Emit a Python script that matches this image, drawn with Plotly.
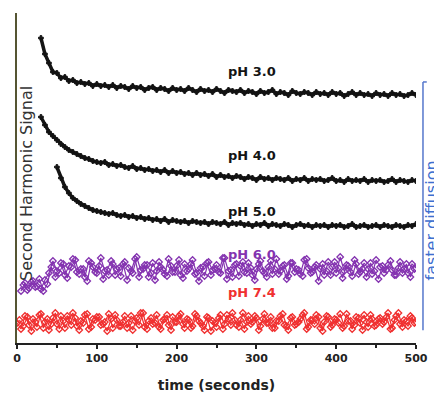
import plotly.graph_objects as go

# ---- data (arbitrary signal units, time in seconds) ----
t_ph30 = list(range(30, 505, 5))
ph30 = [305, 289, 280, 271, 270, 265, 266, 262, 263, 260, 261, 259, 260, 257, 259,
        257, 258, 256, 258, 255, 257, 256, 254, 257, 255, 256, 253, 255, 256, 253,
        255, 254, 252, 255, 253, 254, 252, 255, 253, 251, 254, 252, 253, 251, 254,
        252, 250, 253, 252, 251, 253, 250, 252, 251, 249, 252, 250, 251, 253, 249,
        251, 250, 248, 252, 250, 249, 251, 250, 248, 251, 249, 250, 248, 251, 249,
        250, 247, 249, 251, 248, 250, 248, 249, 247, 250, 248, 249, 247, 250, 248,
        249, 247, 248, 250, 248]

t_ph40 = list(range(30, 505, 5))
ph40 = [226, 218, 211, 207, 203, 199, 196, 193, 191, 189, 187, 185, 184, 182, 181,
        180, 181, 178, 179, 177, 178, 176, 175, 177, 174, 175, 173, 174, 172, 173,
        171, 173, 170, 172, 170, 171, 169, 170, 168, 170, 168, 169, 167, 169, 166,
        168, 166, 167, 165, 167, 166, 164, 166, 165, 163, 166, 164, 165, 163, 165,
        164, 163, 165, 162, 164, 163, 165, 162, 164, 163, 164, 162, 163, 165, 162,
        163, 161, 164, 162, 163, 162, 164, 161, 163, 162, 163, 161, 162, 164, 161,
        163, 162, 161, 163, 162]

t_ph50 = list(range(50, 505, 5))
ph50 = [176, 165, 156, 150, 145, 142, 139, 137, 135, 133, 132,
        131, 130, 129, 130, 128, 127, 128, 126, 127, 125, 126, 124, 125, 123, 124,
        122, 124, 121, 123, 122, 121, 122, 120, 122, 121, 120, 121, 119, 121, 120,
        119, 121, 118, 120, 119, 120, 118, 119, 117, 119, 118, 120, 117, 119, 118,
        117, 119, 118, 116, 118, 119, 117, 118, 116, 118, 117, 118, 116, 118, 117,
        118, 116, 117, 119, 116, 117, 118, 116, 117, 118, 116, 118, 117, 116, 118,
        117, 116, 118, 117, 119]

t_ph60 = list(range(5, 505, 5))
ph60 = [52, 60, 55, 62, 57, 54, 63, 70, 82, 72,
        80, 68, 77, 84, 71, 74, 66, 82, 76, 70, 85, 72, 68, 79, 74,
        67, 81, 75, 70, 86, 73, 78, 66, 80, 72, 76, 69, 84, 71, 77,
        68, 79, 74, 83, 70, 75, 67, 81, 73, 78, 70, 85, 72, 66, 79,
        77, 71, 80, 68, 74, 82, 70, 76, 69, 84, 72, 78, 67, 80, 74,
        69, 83, 75, 71, 78, 74, 68, 81, 76, 70, 86, 72, 77, 67, 79,
        71, 80, 74, 69, 83, 76, 70, 78, 73, 68, 81, 74, 70, 79, 75]

# second, interleaved set of pH 6.0 readings
t_ph60b = list(range(8, 500, 5))
ph60b = [58, 53, 61, 56, 64, 52, 59, 76, 66,
         70, 79, 65, 76, 83, 69, 74, 62, 80, 71,
         77, 64, 73, 82, 68, 75, 79, 63, 72, 84,
         66, 74, 78, 70, 63, 81, 73, 67, 77, 71,
         83, 65, 72, 79, 69, 62, 76, 80, 68, 74,
         71, 85, 64, 73, 78, 67, 81, 70, 75, 63,
         79, 72, 66, 82, 74, 69, 77, 64, 80, 71,
         73, 67, 84, 70, 76, 62, 79, 72, 68, 81,
         75, 65, 78, 71, 83, 69, 74, 66, 80, 72,
         64, 77, 73, 82, 68, 75, 70, 79, 66, 74]

t_ph74 = list(range(0, 505, 5))
ph74 = [20, 14, 27, 18, 24, 16, 29, 21, 13, 25, 19, 27, 15, 23, 30,
        17, 22, 28, 14, 24, 26, 18, 21, 29, 15, 23, 17, 27, 20, 13,
        25, 30, 16, 22, 19, 28, 14, 24, 18, 26, 21, 29, 15, 23, 17,
        27, 20, 13, 25, 22, 16, 28, 19, 24, 30, 18, 23, 14, 27, 21,
        25, 17, 29, 20, 15, 22, 27, 18, 13, 26, 19, 24, 30, 16, 23,
        28, 15, 21, 26, 18, 23, 29, 17, 22, 14, 26, 20, 28, 16, 24,
        18, 25, 21, 30, 15, 27, 19, 23, 17, 25, 21]

# second, interleaved set of pH 7.4 readings
t_ph74b = list(range(3, 500, 5))
ph74b = [23, 17, 26, 12, 21, 28, 15, 24, 19, 30,
         14, 22, 27, 18, 25, 13, 20, 29, 16, 23,
         26, 19, 12, 24, 28, 17, 21, 15, 27, 22,
         18, 30, 14, 25, 20, 16, 23, 28, 13, 21,
         27, 19, 24, 15, 29, 22, 17, 26, 12, 20,
         25, 14, 28, 18, 23, 16, 30, 21, 19, 27,
         13, 24, 20, 26, 15, 22, 29, 17, 25, 18,
         21, 28, 14, 23, 19, 26, 12, 27, 16, 24,
         20, 15, 29, 22, 18, 25, 13, 21, 28, 17,
         24, 19, 26, 14, 23, 30, 16, 22, 27, 20]

labels = ["pH 3.0", "pH 4.0", "pH 5.0", "pH 6.0", "pH 7.4"]
label_x = [294, 294, 294, 294, 294]
label_y = [272, 188, 132, 89, 51]
colors = ["#141414", "#141414", "#141414", "#8433b0", "#f03030"]

x_ticks = [0, 100, 200, 300, 400, 500]

FONT = "DejaVu Sans"

fig = go.Figure()
for tx, ty in [(t_ph30, ph30), (t_ph40, ph40), (t_ph50, ph50)]:
    fig.add_trace(go.Scatter(
        x=tx, y=ty, mode="lines+markers",
        line=dict(color=colors[0], width=3.5),
        marker=dict(color=colors[0], size=4, symbol="cross", line=dict(width=1, color=colors[0])),
        showlegend=False, hoverinfo="skip"))

for (tx, ty, c) in [(t_ph60, ph60, colors[3]), (t_ph60b, ph60b, colors[3]),
                    (t_ph74, ph74, colors[4]), (t_ph74b, ph74b, colors[4])]:
    fig.add_trace(go.Scatter(
        x=tx, y=ty, mode="lines+markers",
        line=dict(color=c, width=1.2),
        marker=dict(color=c, size=5, symbol="diamond-open", line=dict(width=1.3, color=c)),
        showlegend=False, hoverinfo="skip"))

for lab, lx, ly, c in zip(labels, label_x, label_y, colors):
    fig.add_annotation(x=lx, y=ly, text="<b>" + lab + "</b>", showarrow=False,
                       font=dict(family=FONT, size=13, color=c))

# y-axis title placed inside, as in the original
fig.add_annotation(xref="paper", yref="paper", x=0.025, y=0.485, xanchor="center", yanchor="middle",
                   text="Second Harmonic Signal", textangle=-90, showarrow=False,
                   font=dict(family=FONT, size=16, color="#333333"))

# blue "faster diffusion" indicator
fig.add_shape(type="line", xref="paper", yref="paper", x0=1.0175, x1=1.0175, y0=0.039, y1=0.791,
              line=dict(color="#5577cc", width=1.5))
fig.add_shape(type="line", xref="paper", yref="paper", x0=1.0175, x1=1.027, y0=0.791, y1=0.791,
              line=dict(color="#5577cc", width=1.5))
fig.add_annotation(xref="paper", yref="paper", x=1.039, y=0.37, xanchor="center", yanchor="middle",
                   text="faster diffusion", textangle=-90, showarrow=False,
                   font=dict(family=FONT, size=16, color="#3d6fd0"))

# the page body has an 8px margin: the figure is sized so that it fits the window
fig.update_layout(
    width=434, height=389,
    margin=dict(l=9, r=26, t=5, b=54, autoexpand=False),
    plot_bgcolor="white", paper_bgcolor="white",
    xaxis=dict(range=[0, 500], tickvals=x_ticks, ticktext=["<b>%d</b>" % v for v in x_ticks],
               automargin=False,
               showline=True, linecolor="#222222", linewidth=2, ticks="outside",
               ticklen=4, tickwidth=2, tickcolor="#222222",
               minor=dict(dtick=50, ticks="outside", ticklen=3, tickcolor="#222222"),
               showgrid=False, zeroline=False,
               tickfont=dict(family=FONT, size=11, color="#222222"),
               title=dict(text="<b>time (seconds)</b>", standoff=16,
                          font=dict(family=FONT, size=14, color="#222222"))),
    yaxis=dict(range=[0, 330], showline=True, linecolor="#555533", linewidth=2,
               automargin=False,
               showticklabels=False, ticks="", showgrid=False, zeroline=False),
)

fig.write_html("out.html")
